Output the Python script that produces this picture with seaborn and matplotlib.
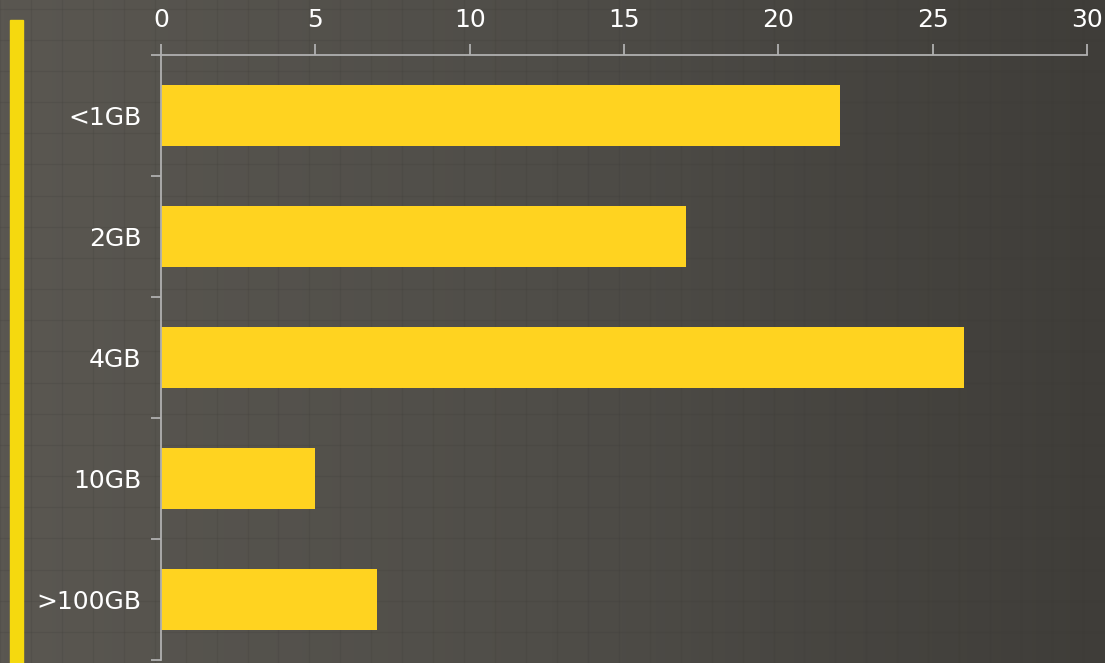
import numpy as np
import pandas as pd
import matplotlib
matplotlib.use("Agg")
import matplotlib.pyplot as plt
import seaborn as sns
from matplotlib.patches import Rectangle

# Datos
categorias = ["<1GB", "2GB", "4GB", "10GB", ">100GB"]
valores = [22, 17, 26, 5, 7]
ticks_x = [0, 5, 10, 15, 20, 25, 30]

df = pd.DataFrame({"Tamaño": categorias, "Cantidad": valores})

sns.set_style("dark")
plt.rcParams["font.family"] = ["DejaVu Sans"]

amarillo = "#ffd320"
gris_eje = "#b0b0b0"

fig = plt.figure(figsize=(11.05, 6.63), dpi=100)

# Fondo con un leve degradado (textura de pizarra)
fondo = fig.add_axes([0, 0, 1, 1], zorder=-10)
grad = np.linspace(0, 1, 256)[None, :]
cmap = matplotlib.colors.LinearSegmentedColormap.from_list("fondo", ["#5a5751", "#4f4d48", "#3f3d39"])
fondo.imshow(grad, aspect="auto", cmap=cmap, extent=[0, 1, 0, 1])
# rejilla tenue de fondo
for gx in np.arange(0, 1, 0.028):
    fondo.axvline(gx, color="#3c3a36", lw=0.8, alpha=0.18)
for gy in np.arange(0, 1, 0.047):
    fondo.axhline(gy, color="#3c3a36", lw=0.8, alpha=0.18)
fondo.set_xlim(0, 1)
fondo.set_ylim(0, 1)
fondo.axis("off")

# Franja de tiza amarilla a la izquierda
fig.add_artist(Rectangle((0.0095, 0.0), 0.011, 0.97, transform=fig.transFigure,
                         color="#f5d90f", zorder=5))

ax = fig.add_axes([0.1457, 0.0045, 0.8380, 0.9125])
ax.set_facecolor("none")
sns.barplot(data=df, x="Cantidad", y="Tamaño", orient="h", color=amarillo,
            width=0.5, saturation=1, edgecolor="none", linewidth=0, ax=ax)

ax.set_xlim(0, 30)
ax.set_ylim(4.5, -0.5)
ax.set_xticks(ticks_x)
ax.xaxis.tick_top()
ax.set_xlabel("")
ax.set_ylabel("")
ax.grid(False)

for s in ["right", "bottom"]:
    ax.spines[s].set_visible(False)
for s in ["top", "left"]:
    ax.spines[s].set_color(gris_eje)
    ax.spines[s].set_linewidth(1.3)

ax.tick_params(axis="x", which="major", top=True, bottom=False, length=8,
               width=1.3, color=gris_eje, pad=8.5, labelsize=18, labelcolor="white")
ax.tick_params(axis="y", which="major", left=False, length=0, pad=14,
               labelsize=18, labelcolor="white")
ax.set_yticks(np.arange(-0.5, 5, 1), minor=True)
ax.tick_params(axis="y", which="minor", left=True, length=7.5, width=1.3, color=gris_eje)

plt.savefig("out.png", dpi=100, facecolor="#4c4a45")
